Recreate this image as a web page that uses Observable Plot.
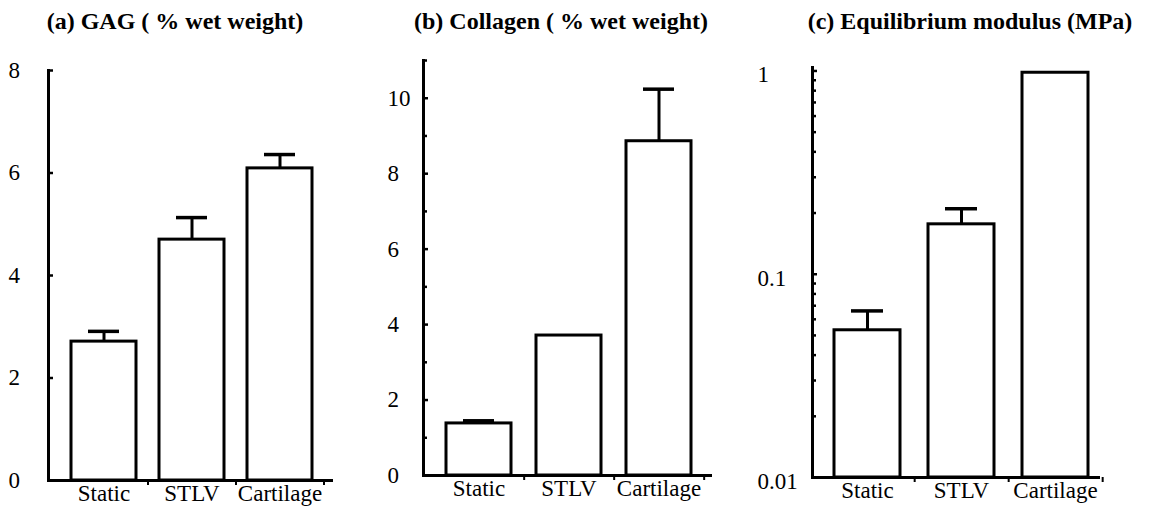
<!DOCTYPE html>
<html><head><meta charset="utf-8">
<script src="https://cdn.jsdelivr.net/npm/d3@7"></script>
<script src="https://cdn.jsdelivr.net/npm/@observablehq/plot@0.6"></script>
<style>
body{margin:0;background:#fff;}
#wrap{position:relative;width:1151px;height:507px;overflow:hidden;background:#fff;}
.title{position:absolute;top:9px;font-family:"Times New Roman",Times,"Liberation Serif","Nimbus Roman","Noto Serif","DejaVu Serif",serif;font-weight:bold;font-size:24px;white-space:nowrap;transform:translateX(-50%);line-height:24px;color:#000;}
.panel{position:absolute;top:0;}
.panel text{font-family:"Times New Roman",Times,"Liberation Serif","Nimbus Roman","Noto Serif","DejaVu Serif",serif;}
</style></head><body>
<div id="wrap"></div>
<script>
// ---- data ----
const categories = ["Static", "STLV", "Cartilage"];
const gagMean = [2.71, 4.70, 6.09];
const gagSD = [0.20, 0.43, 0.27];
const collagenMean = [1.38, 3.71, 8.86];
const collagenSD = [0.07, 0.0, 1.38];
const modulusMean = [0.053, 0.176, 0.98];
const modulusSD = [0.013, 0.034, 0.0];
const gagTicks = [0, 2, 4, 6, 8];
const gagTickLabels = ["0", "2", "4", "6", "8"];
const collagenTicks = [0, 2, 4, 6, 8, 10];
const collagenTickLabels = ["0", "2", "4", "6", "8", "10"];
const collagenMinorTicks = [1, 3, 5, 7, 9, 11];
const modulusTicks = [0.01, 0.1, 1];
const modulusTickLabels = ["0.01", "0.1", "1"];
const modulusMinorTicks = [0.02, 0.03, 0.04, 0.05, 0.06, 0.07, 0.08, 0.09, 0.2, 0.3, 0.4, 0.5, 0.6, 0.7, 0.8, 0.9];
const titles = ["(a) GAG ( % wet weight)", "(b) Collagen ( % wet weight)", "(c) Equilibrium modulus (MPa)"];

const FONT = '"Times New Roman", Times, "Liberation Serif", "Nimbus Roman", "Noto Serif", "DejaVu Serif", serif';
const wrap = document.getElementById("wrap");

function makePanel(cfg) {
  const rows = categories.map((c, i) => ({cat: c, mean: cfg.mean[i], top: cfg.mean[i] + cfg.sd[i]}));
  const errRows = rows.filter(d => d.top > d.mean);
  const H = 507;
  const ml = cfg.axisX - cfg.left;
  const mr = cfg.left + cfg.width - cfg.axisEnd;
  const frameW = cfg.axisEnd - cfg.axisX;
  const step = (frameW - cfg.insetL - cfg.insetR) / categories.length;
  const labelMap = new Map(cfg.ticks.map((t, i) => [t, cfg.tickLabels[i]]));
  const base = cfg.domain[0];
  const plot = Plot.plot({
    width: cfg.width,
    height: H,
    marginLeft: ml,
    marginRight: mr,
    marginTop: cfg.top,
    marginBottom: H - cfg.bottom,
    style: {fontFamily: FONT, fontSize: "23px", overflow: "visible", background: "transparent", color: "black"},
    x: {domain: categories, paddingInner: cfg.padIn, paddingOuter: cfg.padIn / 2, insetLeft: cfg.insetL, insetRight: cfg.insetR, label: null},
    y: {type: cfg.log ? "log" : "linear", domain: cfg.domain, label: null},
    marks: [
      Plot.barY(rows, {x: "cat", y1: () => base, y2: "mean", fill: "white", stroke: "black", strokeWidth: 3}),
      Plot.ruleX(errRows, {x: "cat", y1: "mean", y2: "top", stroke: "black", strokeWidth: 3}),
      Plot.tickY(errRows, {x: "cat", y: "top", insetLeft: 17, insetRight: 17, stroke: "black", strokeWidth: 3.5}),
      Plot.ruleY([base], {stroke: "black", strokeWidth: 3}),
      Plot.frame({anchor: "left", stroke: "black", strokeWidth: 3}),
      Plot.axisY({ticks: cfg.ticks, tickSize: -5, tickFormat: () => "", strokeWidth: 2.5}),
      Plot.axisY({ticks: cfg.minor, tickSize: -4, tickFormat: () => "", strokeWidth: 2.5}),
      Plot.axisY({ticks: cfg.ticks, tickSize: 0, tickPadding: 0, textAnchor: "start", dx: -cfg.labelOffset, dy: cfg.labelDy, tickFormat: d => labelMap.get(d), fontSize: 23, fill: "black"}),
      Plot.axisX({tickSize: 0, tickPadding: 4, fontSize: 23, fill: "black"}),
      Plot.axisX({tickSize: 5, tickFormat: () => "", dx: step / 2, strokeWidth: 2})
    ]
  });
  plot.classList.add("panel");
  plot.style.left = cfg.left + "px";
  wrap.appendChild(plot);
  const t = document.createElement("div");
  t.className = "title";
  t.textContent = cfg.title;
  t.style.left = cfg.titleX + "px";
  wrap.appendChild(t);
}

makePanel({left: 0, width: 380, axisX: 48, axisEnd: 333, top: 70, bottom: 480, insetL: 12, insetR: 9, padIn: 0.26,
  domain: [0, 8], log: false, mean: gagMean, sd: gagSD, ticks: gagTicks, tickLabels: gagTickLabels, minor: [],
  labelOffset: 40, labelDy: 0, title: titles[0], titleX: 175});
makePanel({left: 380, width: 375, axisX: 423, axisEnd: 712, top: 60, bottom: 475, insetL: 10, insetR: 8, padIn: 0.28,
  domain: [0, 11], log: false, mean: collagenMean, sd: collagenSD, ticks: collagenTicks, tickLabels: collagenTickLabels, minor: collagenMinorTicks,
  labelOffset: 36, labelDy: 0, title: titles[1], titleX: 561});
makePanel({left: 755, width: 396, axisX: 812, axisEnd: 1100, top: 67, bottom: 477, insetL: 7, insetR: -2, padIn: 0.30,
  domain: [0.01, 1.04], log: true, mean: modulusMean, sd: modulusSD, ticks: modulusTicks, tickLabels: modulusTickLabels, minor: modulusMinorTicks,
  labelOffset: 55, labelDy: 4, title: titles[2], titleX: 970});
</script>
</body></html>
